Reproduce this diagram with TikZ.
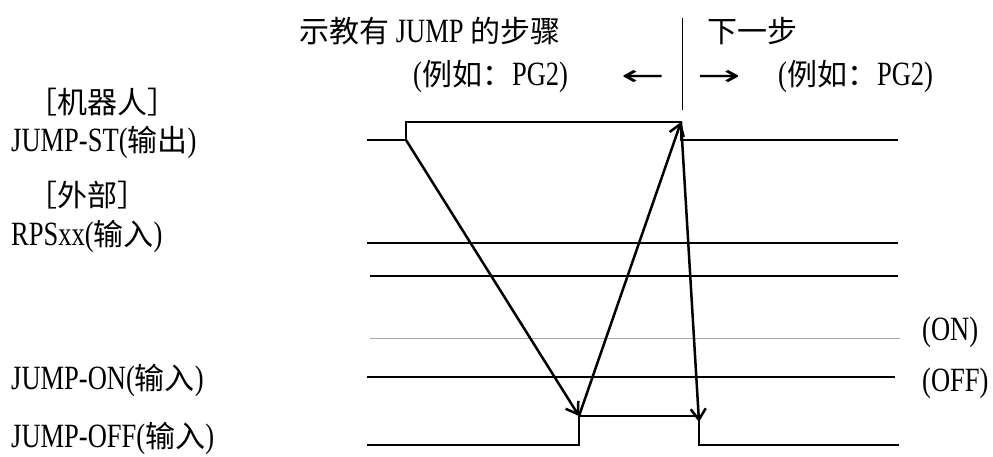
\documentclass[tikz,border=0pt]{standalone}
\usepackage{fontspec}
\setmainfont[FakeStretch=0.78]{Liberation Serif}
\newfontfamily\cj{Noto Sans CJK SC}
\newfontfamily\sym{DejaVu Sans}
\usetikzlibrary{arrows.meta}
\newcommand{\zh}[1]{{\cj\fontsize{30}{32}\selectfont #1}}
\begin{document}
\begin{tikzpicture}[x=1pt,y=-1pt,
  lbl/.style={anchor=west,inner sep=0pt,font=\fontsize{34}{36}\selectfont},
  arr/.style={anchor=west,inner sep=0pt,font=\sym\fontsize{26}{28}\selectfont},
  sig/.style={line width=2.5pt,line join=miter},
  evt/.style={line width=2.5pt,-{Straight Barb[length=11pt,width=15pt,line width=2.5pt]}},
  sep/.style={line width=1pt},
  onl/.style={line width=1pt,gray!70}]
\useasboundingbox (0,0) rectangle (993,457);
% texts
\node[lbl] (title) at (299,31) {\zh{示教有} JUMP \zh{的步骤}};
\node[lbl] (ex1) at (413,77) {(\zh{例如：}PG2)};
\node[arr] (larr) at (621,78) {\scalebox{2}[1.1]{←}};
\node[lbl] (next) at (707,31) {\zh{下一步}};
\node[arr] (rarr) at (697,78) {\scalebox{2}[1.1]{→}};
\node[lbl] (ex2) at (778,77) {(\zh{例如：}PG2)};
\node[lbl] (robot) at (27,102) {\zh{［机器人］}};
\node[lbl] (jst) at (11,142) {JUMP-ST(\zh{输出})};
\node[lbl] (ext) at (27,195) {\zh{［外部］}};
\node[lbl] (rps) at (11,236) {RPSxx(\zh{输入})};
\node[lbl] (jon) at (11,380) {JUMP-ON(\zh{输入})};
\node[lbl] (joff) at (11,438) {JUMP-OFF(\zh{输入})};
\node[lbl] (on) at (922,332) {(ON)};
\node[lbl] (off) at (922,383) {(OFF)};
% separator
\coordinate (s1) at (682,18);
\coordinate (s2) at (682,110);
\draw[sep] (s1) -- (s2);
% key points
\coordinate (stRise) at (406,140);
\coordinate (stTop) at (681,122);
\coordinate (offRise) at (579,416);
\coordinate (offFall) at (699,416);
% JUMP-ST
\draw[sig] (367,140) -- (stRise) -- (406,122) -- (stTop) -- (681,140) -- (898,140);
% RPSxx
\draw[sig] (367,243) -- (898,243);
\draw[sig] (370,276) -- (898,276);
% ON reference
\draw[onl] (370,338) -- (900,338);
% JUMP-ON
\draw[sig] (367,377) -- (895,377);
% JUMP-OFF
\draw[sig] (367,445) -- (579,445) -- (offRise) -- (offFall) -- (699,445) -- (899,445);
% event arrows
\draw[evt] (stRise) -- (offRise);
\draw[evt] (offRise) -- (stTop);
\draw[evt] (stTop) -- ([yshift=-6pt]offFall);
\end{tikzpicture}
\end{document}
